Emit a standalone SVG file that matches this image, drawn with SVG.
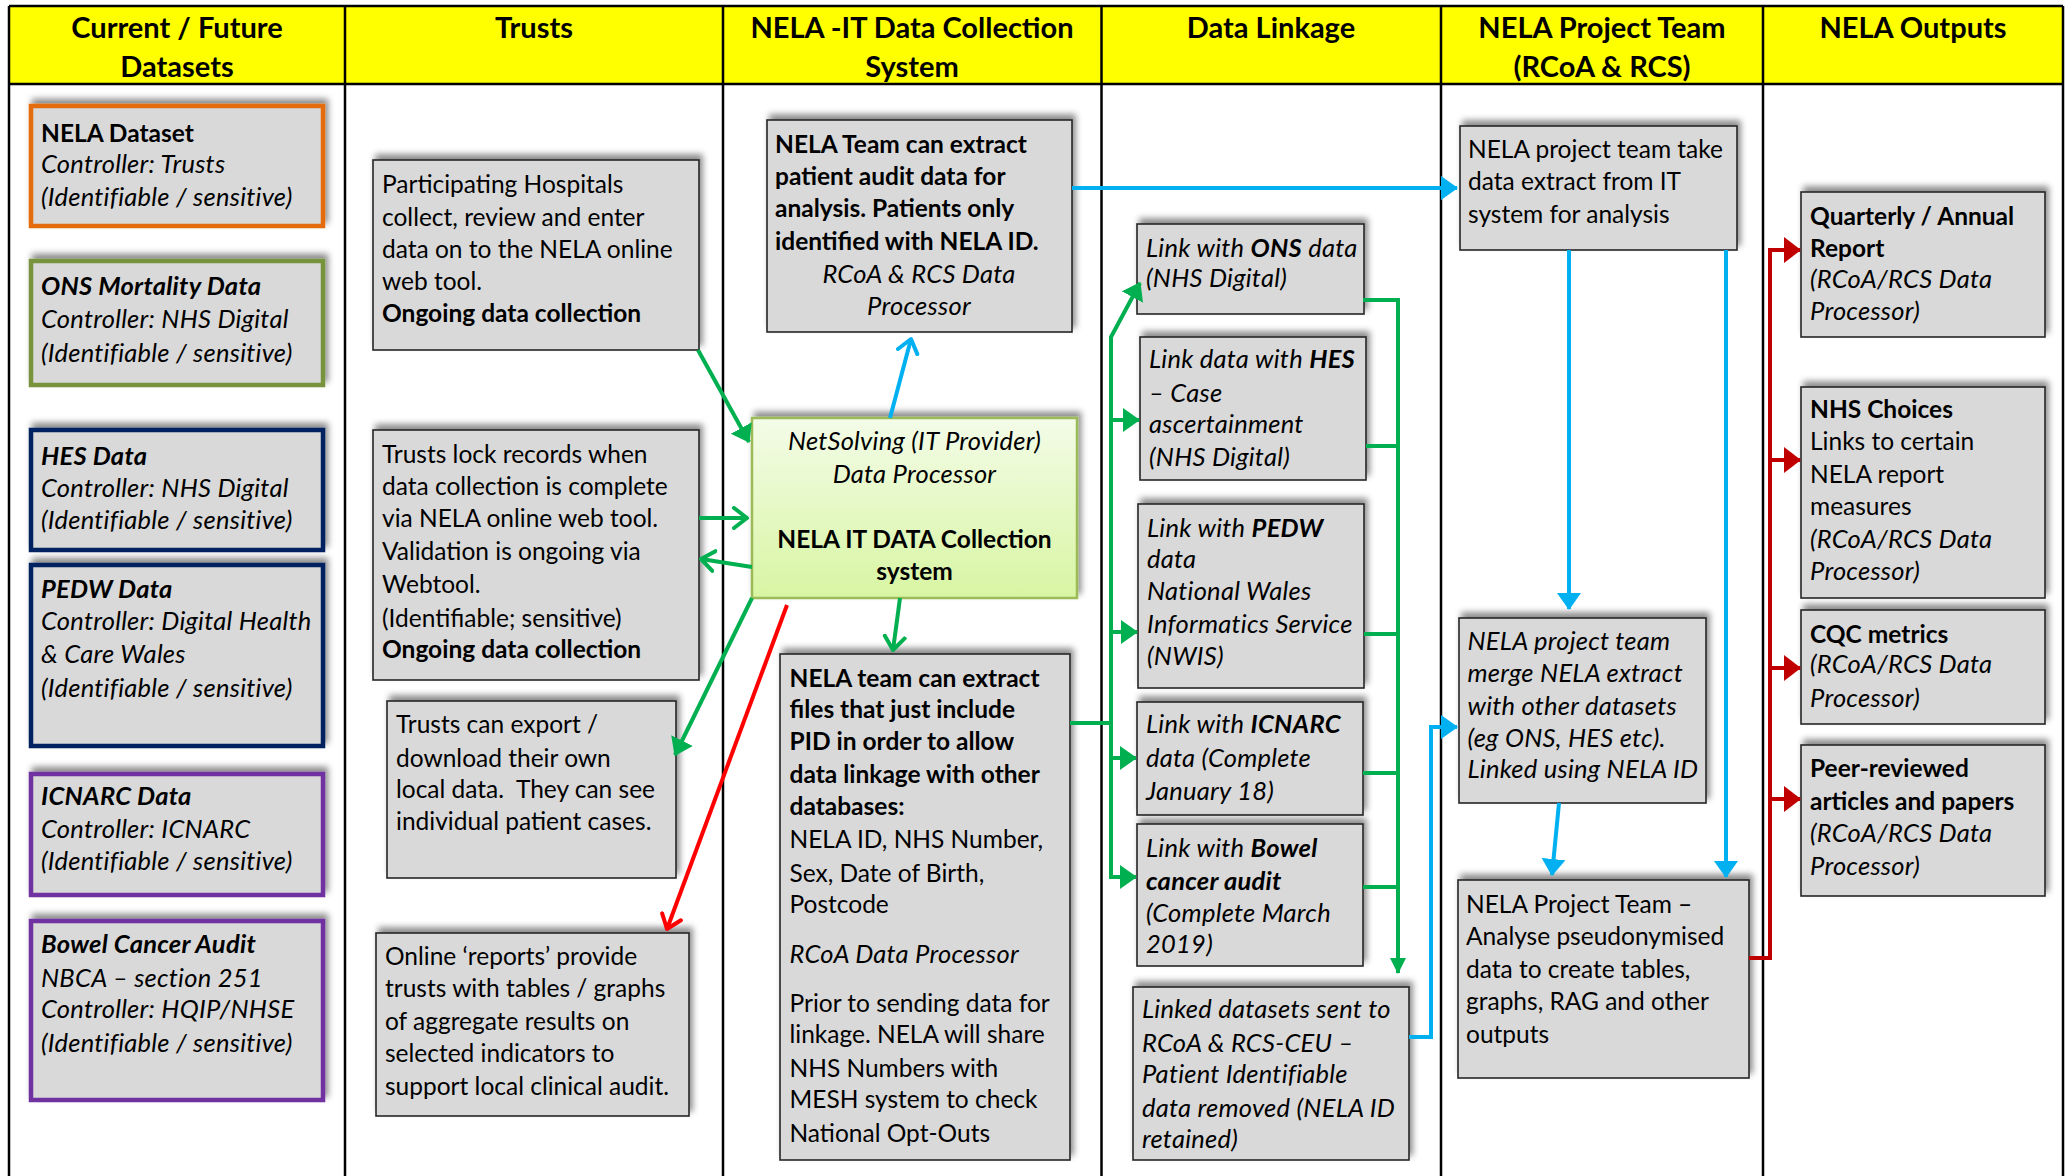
<svg xmlns="http://www.w3.org/2000/svg" width="2066" height="1176" viewBox="0 0 2066 1176">
<defs>
<style>
text{font-family:Lato,"Liberation Sans",sans-serif;font-size:24.5px;fill:#000}
.h{font-size:29px;font-weight:700;text-anchor:middle}
.b{font-weight:700}
.i{font-style:italic;font-size:25.5px;letter-spacing:0.25px}
.c{text-anchor:middle}
.box{fill:#D9D9D9;stroke:#262626;stroke-width:1.6;filter:url(#sh)}
.ds{fill:#D9D9D9;stroke-width:4.5;filter:url(#sh)}
.col{stroke:#000;stroke-width:2.5;fill:none}
.g{stroke:#00B050;stroke-width:4;fill:none}
.bl{stroke:#00B0F0;stroke-width:4;fill:none}
.r{stroke:#FF0000;stroke-width:4;fill:none}
.dr{stroke:#C00000;stroke-width:4;fill:none}
</style>
<filter id="sh" x="-10%" y="-20%" width="125%" height="140%">
<feDropShadow dx="3" dy="-5" stdDeviation="3" flood-color="#000" flood-opacity="0.45"/>
</filter>
<linearGradient id="ng" x1="0" y1="0" x2="0" y2="1">
<stop offset="0" stop-color="#F3FCE8"/>
<stop offset="1" stop-color="#D8F5A2"/>
</linearGradient>
<marker id="gF" markerUnits="userSpaceOnUse" markerWidth="20" markerHeight="26" refX="16" refY="12" orient="auto"><path d="M0,0 L17,12 L0,24 z" fill="#00B050"/></marker>
<marker id="gS" markerUnits="userSpaceOnUse" markerWidth="20" markerHeight="18" refX="15" refY="8" orient="auto"><path d="M0,0 L16,8 L0,16 z" fill="#00B050"/></marker>
<marker id="gO" markerUnits="userSpaceOnUse" markerWidth="22" markerHeight="28" refX="15" refY="12" orient="auto"><path d="M2,2 L15,12 L2,22" fill="none" stroke="#00B050" stroke-width="4" stroke-linecap="round" stroke-linejoin="round"/></marker>
<marker id="bF" markerUnits="userSpaceOnUse" markerWidth="20" markerHeight="26" refX="16" refY="12" orient="auto"><path d="M0,0 L17,12 L0,24 z" fill="#00B0F0"/></marker>
<marker id="bO" markerUnits="userSpaceOnUse" markerWidth="22" markerHeight="28" refX="15" refY="12" orient="auto"><path d="M2,2 L15,12 L2,22" fill="none" stroke="#00B0F0" stroke-width="4" stroke-linecap="round" stroke-linejoin="round"/></marker>
<marker id="rO" markerUnits="userSpaceOnUse" markerWidth="22" markerHeight="28" refX="15" refY="12" orient="auto"><path d="M2,2 L15,12 L2,22" fill="none" stroke="#FF0000" stroke-width="4" stroke-linecap="round" stroke-linejoin="round"/></marker>
<marker id="dF" markerUnits="userSpaceOnUse" markerWidth="20" markerHeight="28" refX="16" refY="13" orient="auto"><path d="M0,0 L17,13 L0,26 z" fill="#C00000"/></marker>
</defs>
<rect width="2066" height="1176" fill="#fff"/>
<g id="table">
<rect x="9" y="6" width="2054" height="78" fill="#FFFF00"/>
<path class="col" d="M9,6 H2063 M9,84 H2063 M9,6 V1176 M345,6 V1176 M723,6 V1176 M1101.5,6 V1176 M1441,6 V1176 M1763,6 V1176 M2063,6 V1176"/>
<text class="h" x="177" y="38">Current / Future</text>
<text class="h" x="177" y="77">Datasets</text>
<text class="h" x="534" y="38">Trusts</text>
<text class="h" x="912" y="38">NELA -IT Data Collection</text>
<text class="h" x="912" y="77">System</text>
<text class="h" x="1271" y="38">Data Linkage</text>
<text class="h" x="1602" y="38">NELA Project Team</text>
<text class="h" x="1602" y="77">(RCoA &amp; RCS)</text>
<text class="h" x="1913" y="38">NELA Outputs</text>
</g>

<g id="nela-dataset"><rect class="ds" x="31" y="106" width="292" height="120" stroke="#E46C0A"/>
<text x="41" y="142" class="b">NELA Dataset</text><text x="41" y="173" class="i">Controller: Trusts</text><text x="41" y="206" class="i">(Identifiable / sensitive)</text></g>
<g id="ons-data"><rect class="ds" x="31" y="261" width="292" height="124" stroke="#77933C"/>
<text x="41" y="295" class="b i">ONS Mortality Data</text><text x="41" y="328" class="i">Controller: NHS Digital</text><text x="41" y="362" class="i">(Identifiable / sensitive)</text></g>
<g id="hes-data"><rect class="ds" x="31" y="430" width="292" height="120" stroke="#002060"/>
<text x="41" y="465" class="b i">HES Data</text><text x="41" y="497" class="i">Controller: NHS Digital</text><text x="41" y="529" class="i">(Identifiable / sensitive)</text></g>
<g id="pedw-data"><rect class="ds" x="31" y="565" width="292" height="181" stroke="#002060"/>
<text x="41" y="598" class="b i">PEDW Data</text><text x="41" y="630" class="i">Controller: Digital Health</text><text x="41" y="663" class="i">&amp; Care Wales</text><text x="41" y="697" class="i">(Identifiable / sensitive)</text></g>
<g id="icnarc-data"><rect class="ds" x="31" y="774" width="292" height="121" stroke="#7030A0"/>
<text x="41" y="805" class="b i">ICNARC Data</text><text x="41" y="838" class="i">Controller: ICNARC</text><text x="41" y="870" class="i">(Identifiable / sensitive)</text></g>
<g id="bowel-data"><rect class="ds" x="31" y="921" width="292" height="179" stroke="#7030A0"/>
<text x="41" y="953" class="b i">Bowel Cancer Audit</text><text x="41" y="987" class="i">NBCA – section 251</text><text x="41" y="1018" class="i">Controller: HQIP/NHSE</text><text x="41" y="1052" class="i">(Identifiable / sensitive)</text></g>

<g id="participating"><rect class="box" x="373" y="160" width="326" height="190"/>
<text x="382" y="193">Participating Hospitals</text><text x="382" y="226">collect, review and enter</text><text x="382" y="258">data on to the NELA online</text><text x="382" y="290">web tool.</text><text x="382" y="322" class="b">Ongoing data collection</text></g>
<g id="trusts-lock"><rect class="box" x="373" y="430" width="326" height="250"/>
<text x="382" y="463">Trusts lock records when</text><text x="382" y="495">data collection is complete</text><text x="382" y="527">via NELA online web tool.</text><text x="382" y="560">Validation is ongoing via</text><text x="382" y="593">Webtool.</text><text x="382" y="627">(Identifiable; sensitive)</text><text x="382" y="658" class="b">Ongoing data collection</text></g>
<g id="trusts-export"><rect class="box" x="387" y="701" width="289" height="177"/>
<text x="396" y="733">Trusts can export /</text><text x="396" y="767">download their own</text><text x="396" y="798" xml:space="preserve">local data.  They can see</text><text x="396" y="830">individual patient cases.</text></g>
<g id="online-reports"><rect class="box" x="376" y="933" width="313" height="183"/>
<text x="385" y="965">Online ‘reports’ provide</text><text x="385" y="997">trusts with tables / graphs</text><text x="385" y="1030">of aggregate results on</text><text x="385" y="1062">selected indicators to</text><text x="385" y="1095">support local clinical audit.</text></g>

<g id="nela-team-extract"><rect class="box" x="767" y="120" width="305" height="212"/>
<text x="775" y="153" class="b">NELA Team can extract</text><text x="775" y="185" class="b">patient audit data for</text><text x="775" y="217" class="b">analysis. Patients only</text><text x="775" y="250" class="b">identified with NELA ID.</text><text x="919" y="283" class="i c">RCoA &amp; RCS Data</text><text x="919" y="315" class="i c">Processor</text></g>
<g id="netsolving"><rect x="752" y="418" width="325" height="180" fill="url(#ng)" stroke="#9BBB59" stroke-width="2.5" filter="url(#sh)"/>
<text x="914.5" y="450" class="i c">NetSolving (IT Provider)</text><text x="914.5" y="483" class="i c">Data Processor</text><text x="914.5" y="548" class="b c">NELA IT DATA Collection</text><text x="914.5" y="580" class="b c">system</text></g>
<g id="nela-team-pid"><rect class="box" x="780" y="654" width="290" height="506"/>
<text x="789.5" y="687" class="b">NELA team can extract</text><text x="789.5" y="718" class="b">files that just include</text><text x="789.5" y="750" class="b">PID in order to allow</text><text x="789.5" y="783" class="b">data linkage with other</text><text x="789.5" y="815" class="b">databases:</text><text x="789.5" y="848">NELA ID, NHS Number,</text><text x="789.5" y="882">Sex, Date of Birth,</text><text x="789.5" y="913">Postcode</text><text x="789.5" y="963" class="i">RCoA Data Processor</text><text x="789.5" y="1012">Prior to sending data for</text><text x="789.5" y="1043">linkage. NELA will share</text><text x="789.5" y="1077">NHS Numbers with</text><text x="789.5" y="1108">MESH system to check</text><text x="789.5" y="1142">National Opt-Outs</text></g>

<g id="link-ons"><rect class="box" x="1137" y="224" width="227" height="90"/>
<text x="1146" y="257" class="i">Link with <tspan class="b">ONS</tspan> data</text><text x="1146" y="287" class="i">(NHS Digital)</text></g>
<g id="link-hes"><rect class="box" x="1140" y="337" width="226" height="143"/>
<text x="1149" y="368" class="i">Link data with <tspan class="b">HES</tspan></text><text x="1149" y="402" class="i">– Case</text><text x="1149" y="433" class="i">ascertainment</text><text x="1149" y="466" class="i">(NHS Digital)</text></g>
<g id="link-pedw"><rect class="box" x="1138" y="504" width="226" height="184"/>
<text x="1147" y="537" class="i">Link with <tspan class="b">PEDW</tspan></text><text x="1147" y="568" class="i">data</text><text x="1147" y="600" class="i">National Wales</text><text x="1147" y="633" class="i">Informatics Service</text><text x="1147" y="665" class="i">(NWIS)</text></g>
<g id="link-icnarc"><rect class="box" x="1137" y="702" width="226" height="113"/>
<text x="1146" y="733" class="i">Link with <tspan class="b">ICNARC</tspan></text><text x="1146" y="767" class="i">data (Complete</text><text x="1146" y="800" class="i">January 18)</text></g>
<g id="link-bowel"><rect class="box" x="1137" y="824" width="226" height="142"/>
<text x="1146" y="857" class="i">Link with <tspan class="b">Bowel</tspan></text><text x="1146" y="890" class="i b">cancer audit</text><text x="1146" y="922" class="i">(Complete March</text><text x="1146" y="953" class="i">2019)</text></g>
<g id="linked-datasets"><rect class="box" x="1133" y="987" width="276" height="173"/>
<text x="1142" y="1018" class="i">Linked datasets sent to</text><text x="1142" y="1052" class="i">RCoA &amp; RCS-CEU –</text><text x="1142" y="1083" class="i">Patient Identifiable</text><text x="1142" y="1117" class="i">data removed (NELA ID</text><text x="1142" y="1148" class="i">retained)</text></g>

<g id="team-take"><rect class="box" x="1460" y="126" width="277" height="124"/>
<text x="1468" y="158">NELA project team take</text><text x="1468" y="190">data extract from IT</text><text x="1468" y="223">system for analysis</text></g>
<g id="team-merge"><rect class="box" x="1459" y="618" width="247" height="185"/>
<text x="1467.5" y="650" class="i">NELA project team</text><text x="1467.5" y="682" class="i">merge NELA extract</text><text x="1467.5" y="715" class="i">with other datasets</text><text x="1467.5" y="747" class="i">(eg ONS, HES etc).</text><text x="1467.5" y="778" class="i">Linked using NELA ID</text></g>
<g id="team-analyse"><rect class="box" x="1458" y="880" width="291" height="198"/>
<text x="1466" y="913">NELA Project Team –</text><text x="1466" y="945">Analyse pseudonymised</text><text x="1466" y="978">data to create tables,</text><text x="1466" y="1010">graphs, RAG and other</text><text x="1466" y="1043">outputs</text></g>

<g id="out-report"><rect class="box" x="1801" y="192" width="244" height="145"/>
<text x="1810" y="225" class="b">Quarterly / Annual</text><text x="1810" y="257" class="b">Report</text><text x="1810" y="288" class="i">(RCoA/RCS Data</text><text x="1810" y="320" class="i">Processor)</text></g>
<g id="out-nhs-choices"><rect class="box" x="1801" y="387" width="244" height="211"/>
<text x="1810" y="418" class="b">NHS Choices</text><text x="1810" y="450">Links to certain</text><text x="1810" y="483">NELA report</text><text x="1810" y="515">measures</text><text x="1810" y="548" class="i">(RCoA/RCS Data</text><text x="1810" y="580" class="i">Processor)</text></g>
<g id="out-cqc"><rect class="box" x="1801" y="610" width="244" height="114"/>
<text x="1810" y="643" class="b">CQC metrics</text><text x="1810" y="673" class="i">(RCoA/RCS Data</text><text x="1810" y="707" class="i">Processor)</text></g>
<g id="out-peer"><rect class="box" x="1801" y="745" width="244" height="151"/>
<text x="1810" y="777" class="b">Peer-reviewed</text><text x="1810" y="810" class="b">articles and papers</text><text x="1810" y="842" class="i">(RCoA/RCS Data</text><text x="1810" y="875" class="i">Processor)</text></g>

<g id="connectors">
<path class="bl" d="M1072,188 H1457" marker-end="url(#bF)"/>
<path class="bl" d="M890,418 L911,339" marker-end="url(#bO)"/>
<path class="bl" d="M1569,250 V609" marker-end="url(#bF)"/>
<path class="bl" d="M1726,250 V877" marker-end="url(#bF)"/>
<path class="bl" d="M1559,803 L1552,875" marker-end="url(#bF)"/>
<path class="bl" d="M1409,1037 H1431 V727 H1457" marker-end="url(#bF)"/>
<path class="g" d="M698,350 L749,442" marker-end="url(#gF)"/>
<path class="g" d="M699,518 H747" marker-end="url(#gO)"/>
<path class="g" d="M752,567 L701,559" marker-end="url(#gO)"/>
<path class="g" d="M900,598 L893,650" marker-end="url(#gO)"/>
<path class="g" d="M752,598 L675,755" marker-end="url(#gF)"/>
<path class="g" d="M1070,723 H1111"/>
<path class="g" d="M1111,879 V337 L1140,283" marker-end="url(#gF)"/>
<path class="g" d="M1111,420 H1139" marker-end="url(#gF)"/>
<path class="g" d="M1111,632 H1137" marker-end="url(#gF)"/>
<path class="g" d="M1111,758 H1136" marker-end="url(#gF)"/>
<path class="g" d="M1109,877 H1136" marker-end="url(#gF)"/>
<path class="g" d="M1363,300 H1398 V973" marker-end="url(#gS)"/>
<path class="g" d="M1366,446 H1398 M1364,634 H1398 M1363,773 H1398 M1363,887 H1398"/>
<path class="r" d="M787,605 L667,929" marker-end="url(#rO)"/>
<path class="dr" d="M1749,958 H1770 V250 H1800" marker-end="url(#dF)"/>
<path class="dr" d="M1770,460 H1800" marker-end="url(#dF)"/>
<path class="dr" d="M1770,668 H1800" marker-end="url(#dF)"/>
<path class="dr" d="M1770,799 H1800" marker-end="url(#dF)"/>
</g>
</svg>
